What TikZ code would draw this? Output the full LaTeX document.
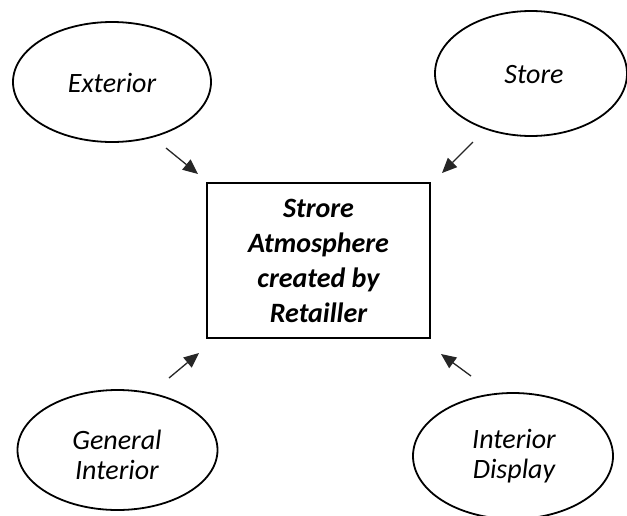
\documentclass[tikz,border=0pt]{standalone}
\usepackage{fontspec}
\setmainfont{Carlito}
\usetikzlibrary{arrows.meta,shapes.geometric}

\tikzset{
  oval/.style={draw, line width=1.8pt, ellipse, inner sep=0pt},
  ovaltext/.style={font=\fontsize{28}{30}\selectfont\itshape, align=center, inner sep=0pt},
  centrebox/.style={draw, line width=2.2pt, rectangle, inner sep=0pt,
    font=\fontsize{28}{35}\selectfont\bfseries\itshape, align=center},
  feed/.style={line width=1.3pt, draw=black!85,
    -{Triangle[length=15pt, width=13pt]}}
}

\begin{document}
\begin{tikzpicture}[x=1pt, y=-1pt]
  \useasboundingbox (0,0) rectangle (627,515);

  % surrounding factors
  \node[oval, minimum width=198pt, minimum height=120pt] (ext) at (112,82) {};
  \node[ovaltext] (extt) at (112,83) {Exterior};

  \node[oval, minimum width=192pt, minimum height=125pt] (sto) at (531,73.5) {};
  \node[ovaltext] (stot) at (534,75) {Store};

  \node[oval, minimum width=200pt, minimum height=120pt] (gen) at (117.5,450) {};
  \node[ovaltext] (gent) at (117,455) {General\\Interior};

  \node[oval, minimum width=200pt, minimum height=126pt] (dis) at (513,456) {};
  \node[ovaltext] (dist) at (514,456) {Interior\\Display};

  % central box
  \node[centrebox, minimum width=223pt, minimum height=155pt] (atm) at (318.5,260.5)
    {Strore\\Atmosphere\\created by\\Retailler};

  % arrow end points
  \coordinate (a1s) at (166,148);
  \coordinate (a1e) at (198,174);
  \coordinate (a2s) at (473,142);
  \coordinate (a2e) at (442,173);
  \coordinate (a3s) at (169,378);
  \coordinate (a3e) at (199,353);
  \coordinate (a4s) at (471,376);
  \coordinate (a4e) at (441,354);

  \draw[feed] (a1s) -- (a1e);
  \draw[feed] (a2s) -- (a2e);
  \draw[feed] (a3s) -- (a3e);
  \draw[feed] (a4s) -- (a4e);
\end{tikzpicture}
\end{document}
